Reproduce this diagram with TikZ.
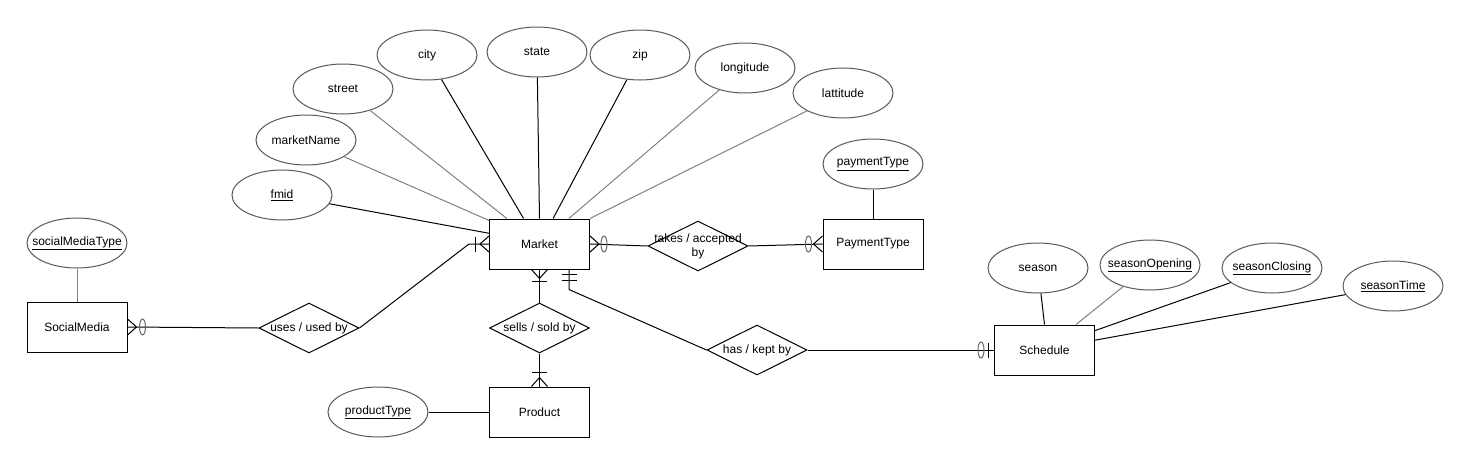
\documentclass[tikz,border=0pt]{standalone}
\usepackage{fontspec}
\setmainfont{Liberation Sans}
\usetikzlibrary{shapes.geometric,calc}

\newcommand{\ztext}[1]{\makebox[0pt]{#1}}

\begin{document}
\begin{tikzpicture}[
    x=1pt, y=-1pt,
    font=\fontsize{12}{14}\selectfont,
    line width=1pt,
    entity/.style={draw, minimum width=100pt, minimum height=50pt, inner sep=0pt},
    attr/.style={ellipse, draw=black!65, minimum width=100pt, minimum height=50pt, inner sep=0pt},
    rel/.style={diamond, draw, aspect=2, minimum width=100pt, minimum height=50pt, inner sep=0pt, align=center},
    soft/.style={draw=black!50},
    crowfoot/.pic={\draw (0,-8) -- (-9,0) -- (0,8);},
    crossbar/.pic={\draw (-#1,-7.5) -- (-#1,7.5);},
    ring/.pic={\draw[black!60] (-#1,0) ellipse [x radius=3, y radius=8];}
]
    \useasboundingbox (0,0) rectangle (1468,464);

    % Entities
    \node[entity] (market) at (539.5,244) {Market};
    \node[entity] (payment) at (873,244) {PaymentType};
    \node[entity] (social) at (77,327) {SocialMedia};
    \node[entity] (product) at (539.5,412) {Product};
    \node[entity] (schedule) at (1044.5,350) {Schedule};

    % Market attributes
    \node[attr] (fmid) at (282,195) {\ztext{\underline{fmid}}};
    \node[attr] (marketname) at (306,140) {\ztext{marketName}};
    \node[attr] (street) at (343,89) {\ztext{street}};
    \node[attr] (city) at (427,55) {\ztext{city}};
    \node[attr] (state) at (537,52) {\ztext{state}};
    \node[attr] (zip) at (640,55) {\ztext{zip}};
    \node[attr] (longitude) at (745,68) {\ztext{longitude}};
    \node[attr] (lattitude) at (843,93) {\ztext{lattitude}};

    % Other attributes
    \node[attr] (paytype) at (873,164) {\ztext{\underline{paymentType}}};
    \node[attr] (smtype) at (77,243) {\ztext{\underline{socialMediaType}}};
    \node[attr] (prodtype) at (378,412) {\ztext{\underline{productType}}};
    \node[attr] (season) at (1038,268) {\ztext{season}};
    \node[attr] (sopen) at (1150,265) {\ztext{\underline{seasonOpening}}};
    \node[attr] (sclose) at (1272,268) {\ztext{\underline{seasonClosing}}};
    \node[attr] (stime) at (1393,286) {\ztext{\underline{seasonTime}}};

    % Relationships
    \node[rel] (takes) at (698,246) {\ztext{takes / accepted}\\\ztext{by}};
    \node[rel] (uses) at (309,328) {\ztext{uses / used by}};
    \node[rel] (sells) at (539.5,328) {\ztext{sells / sold by}};
    \node[rel] (has) at (757,350) {\ztext{has / kept by}};

    % Attribute lines
    \draw (fmid) -- (market.168);
    \draw[soft] (marketname) -- (market.155);
    \draw[soft] (street) -- (market.142);
    \draw (city) -- (market.122);
    \draw (state) -- (market.north);
    \draw (zip) -- (market.62);
    \draw[soft] (longitude) -- (market.41);
    \draw[soft] (lattitude) -- (market.north east);
    \draw (paytype) -- (payment);
    \draw[soft] (smtype) -- (social);
    \draw (prodtype) -- (product);
    \draw (season) -- (schedule.north);
    \draw[soft] (sopen) -- (schedule.39);
    \draw (sclose) -- (schedule.21);
    \draw (stime) -- (schedule.11);

    % Relationship lines
    \coordinate (hasfoot) at ($(market.south)+(29.5,0)$);
    \draw (market.east) -- (takes.west);
    \draw (takes.east) -- (payment.west);
    \draw (social.east) -- (uses.west);
    \draw (uses.east) -- ($(market.west)+(-20,0)$) -- (market.west);
    \draw (market.south) -- (sells.north);
    \draw (sells.south) -- (product.north);
    \draw (hasfoot) -- ++(0,20) -- (has.west);
    \draw (has.east) -- (schedule.west);

    % Cardinality marks
    \pic at (market.west) {crowfoot};
    \pic at (market.west) {crossbar=14};
    \pic[rotate=180] at (market.east) {crowfoot};
    \pic[rotate=180] at (market.east) {ring=14};
    \pic at (payment.west) {crowfoot};
    \pic at (payment.west) {ring=14};
    \pic[rotate=180] at (social.east) {crowfoot};
    \pic[rotate=180] at (social.east) {ring=15};
    \pic[rotate=90] at (market.south) {crowfoot};
    \pic[rotate=90] at (market.south) {crossbar=12};
    \pic[rotate=-90] at (product.north) {crowfoot};
    \pic[rotate=-90] at (product.north) {crossbar=14};
    \pic[rotate=90] at (hasfoot) {crossbar=5};
    \pic[rotate=90] at (hasfoot) {crossbar=11};
    \pic at (schedule.west) {crossbar=6};
    \pic at (schedule.west) {ring=13};
\end{tikzpicture}
\end{document}
